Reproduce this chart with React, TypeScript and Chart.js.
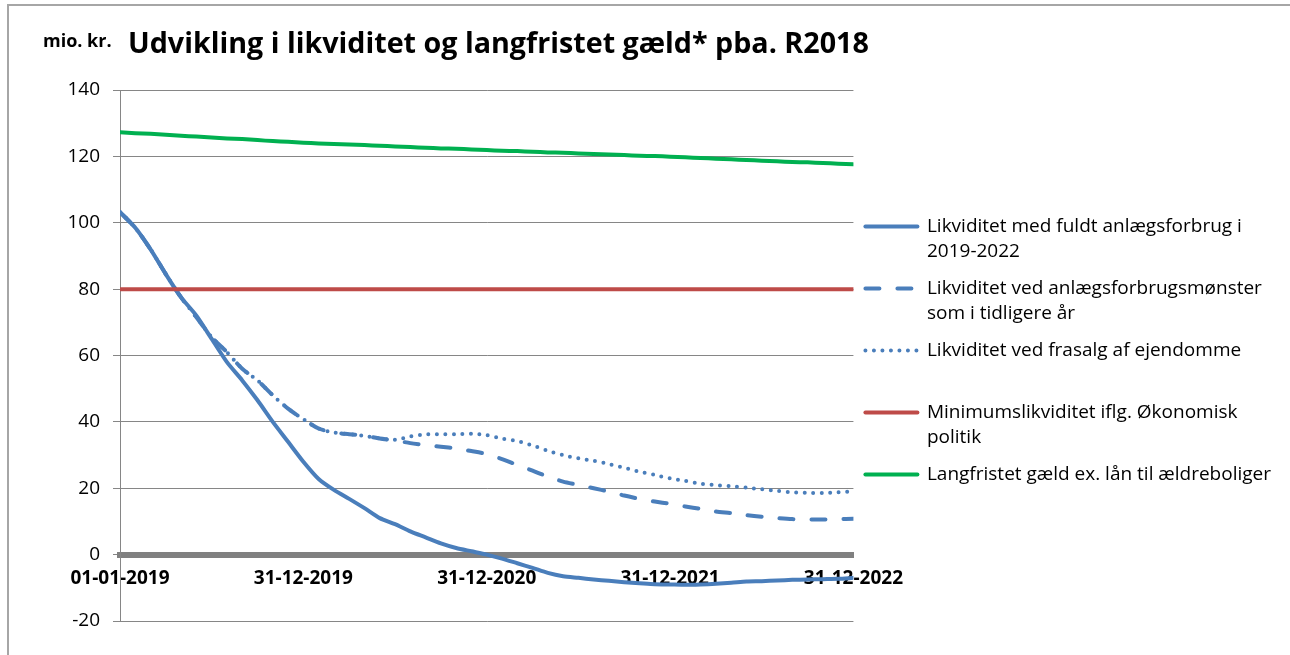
import React, { useEffect, useRef } from "react";
import { Chart, registerables } from "chart.js";

Chart.register(...registerables);

const FONT = "'Open Sans', Carlito, Calibri, sans-serif";

// x positions: month index from 01-01-2019 (0) to 31-12-2022 (48)
const months = [
  0, 1, 2, 3, 4, 5, 6, 7, 8, 9, 10, 11, 12, 13, 14, 15, 16, 17, 18, 19, 20, 21, 22, 23, 24,
  25, 26, 27, 28, 29, 30, 31, 32, 33, 34, 35, 36, 37, 38, 39, 40, 41, 42, 43, 44, 45, 46, 47, 48,
];

const xTickLabels = ["01-01-2019", "31-12-2019", "31-12-2020", "31-12-2021", "31-12-2022"];

const yMin = -20;
const yMax = 140;
const yStep = 20;

const seriesFull = [
  103.2, 98.5, 92.0, 84.5, 77.5, 72.0, 65.0, 58.0, 52.5, 46.5, 40.0, 34.0, 28.0, 22.8, 19.5, 16.8,
  14.0, 11.0, 9.2, 7.0, 5.2, 3.4, 2.0, 1.0, 0.0, -1.2, -2.6, -4.0, -5.5, -6.5, -7.0, -7.5, -7.9,
  -8.3, -8.6, -8.9, -9.0, -9.1, -9.0, -8.8, -8.5, -8.1, -8.0, -7.8, -7.6, -7.5, -7.4, -7.3, -7.0,
];

const seriesPattern = [
  103.2, 98.5, 92.0, 84.5, 77.5, 71.5, 65.5, 61.0, 56.0, 52.5, 48.0, 44.0, 40.8, 38.0, 36.8, 36.3,
  35.8, 35.0, 34.4, 33.6, 33.0, 32.5, 32.0, 31.2, 30.3, 28.8, 27.0, 25.3, 23.5, 22.0, 21.0, 20.0,
  19.0, 17.8, 16.8, 16.0, 15.3, 14.5, 13.8, 13.0, 12.5, 11.9, 11.4, 11.0, 10.7, 10.6, 10.6, 10.7,
  10.8,
];

const seriesSale = [
  103.2, 98.5, 92.0, 84.5, 77.5, 71.5, 65.5, 61.0, 56.0, 52.5, 48.0, 44.0, 40.8, 38.0, 36.8, 36.3,
  35.8, 35.0, 34.6, 35.6, 36.2, 36.3, 36.3, 36.4, 36.0, 35.0, 34.2, 32.9, 31.3, 30.0, 29.0, 28.3,
  27.3, 26.2, 25.0, 24.0, 23.0, 22.2, 21.4, 20.9, 20.6, 20.2, 19.7, 19.2, 18.8, 18.6, 18.6, 18.8,
  19.1,
];

const seriesMinimum = [
  80, 80, 80, 80, 80, 80, 80, 80, 80, 80, 80, 80, 80, 80, 80, 80, 80, 80, 80, 80, 80, 80, 80, 80,
  80, 80, 80, 80, 80, 80, 80, 80, 80, 80, 80, 80, 80, 80, 80, 80, 80, 80, 80, 80, 80, 80, 80, 80, 80,
];

const seriesDebt = [
  127.3, 127.0, 126.8, 126.5, 126.2, 126.0, 125.7, 125.4, 125.2, 124.9, 124.6, 124.4, 124.1, 123.9,
  123.7, 123.6, 123.4, 123.2, 123.0, 122.8, 122.6, 122.4, 122.3, 122.1, 121.9, 121.7, 121.6, 121.4,
  121.2, 121.1, 120.9, 120.7, 120.6, 120.4, 120.2, 120.1, 119.9, 119.7, 119.5, 119.3, 119.1, 118.9,
  118.7, 118.5, 118.3, 118.2, 118.0, 117.8, 117.6,
];

const legendLabels = [
  ["Likviditet med fuldt anlægsforbrug i", "2019-2022"],
  ["Likviditet ved anlægsforbrugsmønster", "som i tidligere år"],
  ["Likviditet ved frasalg af ejendomme", ""],
  ["Minimumslikviditet iflg. Økonomisk", "politik"],
  ["Langfristet gæld ex. lån til ældreboliger", ""],
];

const seriesColors = ["#4A7EBB", "#4A7EBB", "#4A7EBB", "#BE4B48", "#00B050"];
const seriesDashes = [[], [14, 18], [0, 8.5], [], []];

const chartTitle = "Udvikling i likviditet og langfristet gæld* pba. R2018";
const unitLabel = "mio. kr.";

export default function App() {
  const canvasRef = useRef<HTMLCanvasElement>(null);

  useEffect(() => {
    const canvas = canvasRef.current;
    if (!canvas) return;
    const allSeries = [seriesFull, seriesPattern, seriesSale, seriesMinimum, seriesDebt];
    const datasets = allSeries.map((data, i) => ({
      label: legendLabels[i].filter((s) => s).join(" "),
      data,
      borderColor: seriesColors[i],
      backgroundColor: seriesColors[i],
      borderWidth: 4,
      borderDash: seriesDashes[i],
      borderCapStyle: "round" as const,
      borderJoinStyle: "round" as const,
      pointRadius: 0,
      tension: 0.25,
      fill: false,
      order: 5 - i,
    }));

    const chart = new Chart(canvas, {
      type: "line",
      data: { labels: months, datasets },
      options: {
        responsive: false,
        animation: false,
        events: [],
        layout: { padding: { left: 0, top: 90, right: 9, bottom: 34 } },
        scales: {
          x: {
            type: "linear",
            min: 0,
            max: 48,
            position: { y: 0 } as any,
            afterFit: (s: any) => {
              s.height = 0;
            },
            grid: { display: true, drawOnChartArea: false, drawTicks: false },
            border: { display: true, color: "#808080", width: 6 },
            ticks: {
              stepSize: 12,
              autoSkip: false,
              maxRotation: 0,
              padding: 13,
              color: "#000",
              font: { family: FONT, size: 19, weight: "bold" },
              callback: (v: any) => xTickLabels[Math.round(Number(v) / 12)] ?? "",
            },
          },
          y: {
            min: yMin,
            max: yMax,
            afterFit: (s: any) => {
              s.width = 120;
            },
            ticks: {
              stepSize: yStep,
              padding: 13,
              color: "#000",
              font: { family: FONT, size: 19 },
            },
            grid: { color: "#868686", lineWidth: 1, tickLength: 7 },
            border: { display: true, color: "#868686", width: 1 },
          },
        },
        plugins: {
          title: { display: false },
          tooltip: { enabled: false },
          legend: {
            position: "right",
            align: "center",
            maxWidth: 600,
            title: { display: true, text: "", padding: 0, font: { size: 21, lineHeight: 1 } },
            labels: {
              usePointStyle: true,
              pointStyleWidth: 52,
              padding: 12,
              color: "#000",
              font: { family: FONT, size: 19, lineHeight: 25 / 19 },
              generateLabels: (c: any) =>
                c.data.datasets.map((ds: any, i: number) => ({
                  text: legendLabels[i],
                  fillStyle: "rgba(0,0,0,0)",
                  strokeStyle: ds.borderColor,
                  lineWidth: 4,
                  lineDash: ds.borderDash,
                  lineCap: ds.borderCapStyle,
                  pointStyle: "line",
                  hidden: false,
                  fontColor: "#000",
                  datasetIndex: i,
                })),
            },
          },
        },
      } as any,
    });
    return () => chart.destroy();
  }, []);

  return (
    <div
      style={{
        position: "absolute",
        left: 0,
        top: 0,
        width: 1290,
        height: 655,
        overflow: "hidden",
        background: "#fff",
      }}
    >
      <div
        style={{
          position: "absolute",
          left: 7,
          top: 4,
          width: 1400,
          height: 800,
          borderLeft: "2px solid #a6a6a6",
          borderTop: "2px solid #a6a6a6",
        }}
      />
      <canvas
        ref={canvasRef}
        width={1290}
        height={655}
        style={{ position: "absolute", left: 0, top: 0, width: 1290, height: 655 }}
      />
      <div
        style={{
          position: "absolute",
          left: 43,
          top: 31,
          fontFamily: FONT,
          fontWeight: "bold",
          fontSize: 18,
          lineHeight: 1,
          whiteSpace: "nowrap",
          color: "#000",
        }}
      >
        {unitLabel}
      </div>
      <div
        style={{
          position: "absolute",
          left: 128,
          top: 28,
          fontFamily: FONT,
          fontWeight: "bold",
          fontSize: 28.7,
          lineHeight: 1,
          whiteSpace: "nowrap",
          color: "#000",
        }}
      >
        {chartTitle}
      </div>
    </div>
  );
}
